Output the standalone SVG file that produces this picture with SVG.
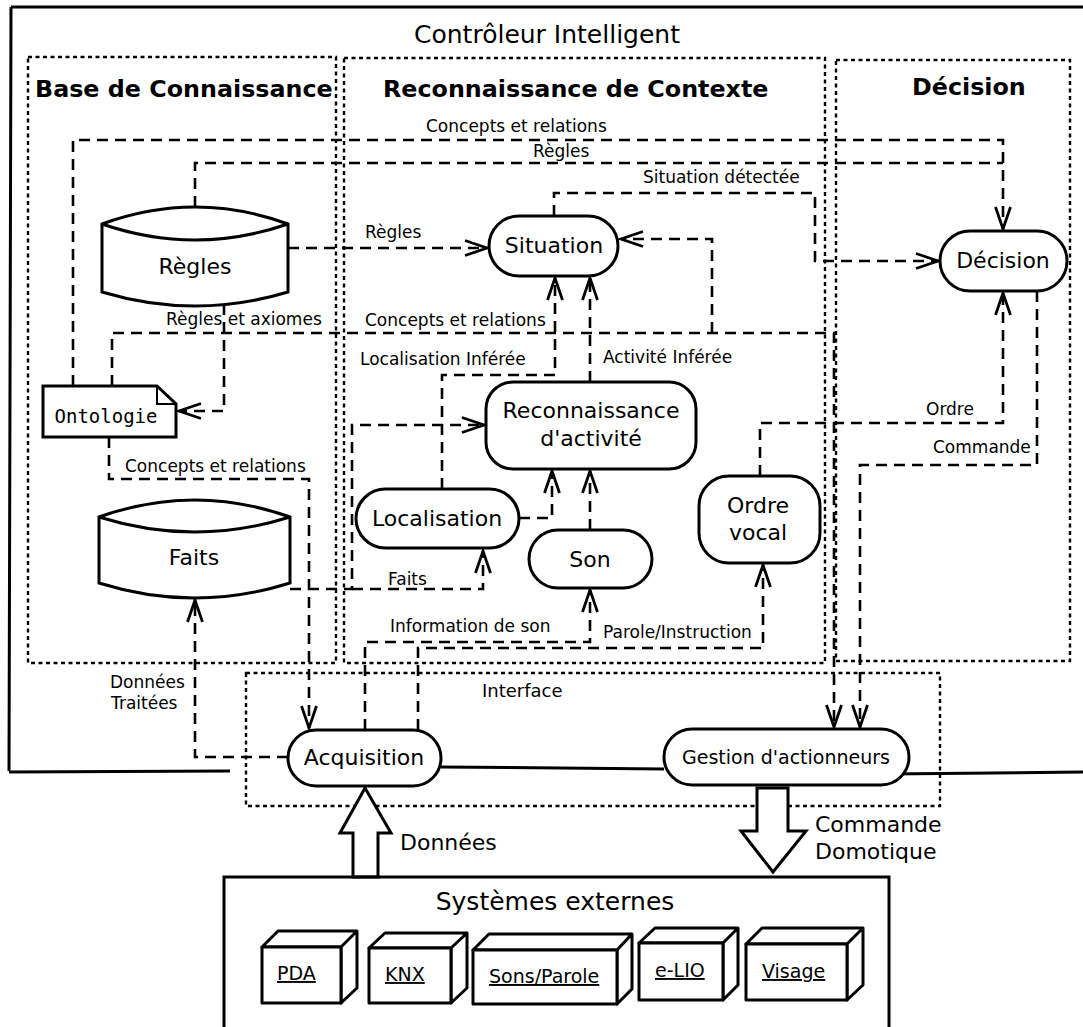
<svg xmlns="http://www.w3.org/2000/svg" width="1083" height="1027" viewBox="0 0 1083 1027">
<style>
text{font-family:"DejaVu Sans","Liberation Sans",sans-serif;fill:#000}
.sec{fill:none;stroke:#000;stroke-width:2.4;stroke-dasharray:4 3.5}
.dash{fill:none;stroke:#000;stroke-width:2.6;stroke-dasharray:11 7}
.solid{fill:none;stroke:#000;stroke-width:3}
.node{fill:#fff;stroke:#000;stroke-width:3}
.nt{font-size:22px;text-anchor:middle}
.lbl{font-size:17px}
.title{font-size:23.8px;font-weight:bold}
.cube{fill:#fff;stroke:#000;stroke-width:3;stroke-linejoin:round}
.ct{font-size:19px;text-decoration:underline}
</style>
<defs>
<marker id="arr" markerUnits="userSpaceOnUse" viewBox="-2 -10 26 20" markerWidth="26" markerHeight="20" refX="22" refY="0" orient="auto" overflow="visible">
<path d="M0,-7.5 L22,0 L0,7.5" fill="none" stroke="#000" stroke-width="2.8" stroke-dasharray="none"/>
</marker>
</defs>

<g id="frame">
<path class="solid" d="M11,7 L1083,7 M11,7 L9,771 M9,772 L230,771 M888,774 L1083,772"/>
<text x="547" y="43" style="font-size:25px;text-anchor:middle">Contrôleur Intelligent</text>
</g>

<g id="sections">
<rect class="sec" x="28" y="57" width="308" height="606"/>
<rect class="sec" x="344" y="58" width="481" height="605"/>
<rect class="sec" x="836" y="60" width="234" height="601"/>
<rect class="sec" x="246" y="673" width="694" height="133"/>
<text class="title" x="35" y="97">Base de Connaissance</text>
<text class="title" x="383" y="97">Reconnaissance de Contexte</text>
<text class="title" x="912" y="95">Décision</text>
<text x="482" y="697" style="font-size:18px">Interface</text>
</g>

<g id="connectors">
<path class="dash" d="M73,386 L73,140 L1003,140 L1003,229" marker-end="url(#arr)"/>
<path class="dash" d="M195,207 L195,163 L1003,163"/>
<path class="dash" d="M288,248 L487,248" marker-end="url(#arr)"/>
<path class="dash" d="M554,216 L554,193 L815,193 L815,261 L938,261" marker-end="url(#arr)"/>
<path class="dash" d="M112,386 L112,333 L834,333 L834,727" marker-end="url(#arr)"/>
<path class="dash" d="M712,333 L712,239 L621,239" marker-end="url(#arr)"/>
<path class="dash" d="M224,304 L224,411 L179,411" marker-end="url(#arr)"/>
<path class="dash" d="M442,489 L442,375 L555,375 L555,278" marker-end="url(#arr)"/>
<path class="dash" d="M590,382 L590,278" marker-end="url(#arr)"/>
<path class="dash" d="M519,518 L552,518 L552,471" marker-end="url(#arr)"/>
<path class="dash" d="M590,530 L590,471" marker-end="url(#arr)"/>
<path class="dash" d="M290,589 L352,589 L352,425 L484,425" marker-end="url(#arr)"/>
<path class="dash" d="M352,589 L483,589 L483,551" marker-end="url(#arr)"/>
<path class="dash" d="M109,437 L109,479 L309,479 L309,728" marker-end="url(#arr)"/>
<path class="dash" d="M288,757 L195,757 L195,600" marker-end="url(#arr)"/>
<path class="dash" d="M365,730 L365,642 L590,642 L590,590" marker-end="url(#arr)"/>
<path class="dash" d="M418,730 L418,648 L763,648 L763,565" marker-end="url(#arr)"/>
<path class="dash" d="M760,476 L760,423 L1003,423 L1003,293" marker-end="url(#arr)"/>
<path class="dash" d="M1037,291 L1037,465 L860,465 L860,727" marker-end="url(#arr)"/>
<path class="solid" d="M441,767 L664,769"/>
<polygon class="node" points="353,877 353,833 340,833 365,788 391,833 378,833 378,877"/>
<polygon class="node" points="757,788 788,788 788,831 806,831 773,872 741,831 757,831"/>
<g class="lbl">
<text class="lbl" x="426" y="132">Concepts et relations</text>
<text class="lbl" x="533" y="157">Règles</text>
<text class="lbl" x="365" y="238">Règles</text>
<text class="lbl" x="643" y="183">Situation détectée</text>
<text class="lbl" x="166" y="325">Règles et axiomes</text>
<text class="lbl" x="365" y="326">Concepts et relations</text>
<text class="lbl" x="360" y="365">Localisation Inférée</text>
<text class="lbl" x="603" y="363">Activité Inférée</text>
<text class="lbl" x="125" y="472">Concepts et relations</text>
<text class="lbl" x="388" y="585">Faits</text>
<text class="lbl" x="390" y="632">Information de son</text>
<text class="lbl" x="603" y="638">Parole/Instruction</text>
<text class="lbl" x="926" y="415">Ordre</text>
<text class="lbl" x="933" y="453">Commande</text>
<text class="lbl" x="110" y="688">Données</text>
<text class="lbl" x="111" y="709">Traitées</text>
</g>
<text x="400" y="850" style="font-size:22px">Données</text>
<text x="815" y="832" style="font-size:22px">Commande</text>
<text x="815" y="859" style="font-size:22px">Domotique</text>
</g>

<g id="regles">
<path class="node" d="M102,224 Q195,190 288,224 L288,292 Q195,320 102,292 Z"/>
<path class="node" d="M102,224 Q195,256 288,224" fill="none"/>
<text class="nt" x="195" y="274">Règles</text>
</g>

<g id="faits">
<path class="node" d="M99,517 Q194.5,483 290,517 L290,583 Q194.5,613 99,583 Z"/>
<path class="node" d="M99,517 Q194.5,547 290,517" fill="none"/>
<text class="nt" x="194" y="565">Faits</text>
</g>

<g id="ontologie">
<path class="node" d="M43,386 L157,386 L176,404 L176,437 L43,437 Z"/>
<path d="M157,386 L157,404 L176,404" fill="none" stroke="#000" stroke-width="2"/>
<text x="106" y="423" style="font-family:'DejaVu Sans Mono','Liberation Mono',monospace;font-size:19px;text-anchor:middle">Ontologie</text>
</g>

<g id="situation">
<rect class="node" x="489" y="216" width="129" height="60" rx="30"/>
<text class="nt" x="554" y="253">Situation</text>
</g>

<g id="decision">
<rect class="node" x="940" y="231" width="127" height="60" rx="30"/>
<text class="nt" x="1003" y="268">Décision</text>
</g>

<g id="reco-activite">
<rect class="node" x="486" y="382" width="210" height="87" rx="27"/>
<text class="nt" x="591" y="418">Reconnaissance</text>
<text class="nt" x="591" y="446">d'activité</text>
</g>

<g id="localisation">
<rect class="node" x="356" y="489" width="163" height="59" rx="29.5"/>
<text class="nt" x="437" y="526">Localisation</text>
</g>

<g id="son">
<rect class="node" x="529" y="530" width="123" height="58" rx="29"/>
<text class="nt" x="590" y="567">Son</text>
</g>

<g id="ordre-vocal">
<rect class="node" x="699" y="476" width="121" height="87" rx="30"/>
<text class="nt" x="758" y="513">Ordre</text>
<text class="nt" x="758" y="540">vocal</text>
</g>

<g id="acquisition">
<rect class="node" x="288" y="730" width="153" height="56" rx="28"/>
<text class="nt" x="364" y="765">Acquisition</text>
</g>

<g id="gestion">
<rect class="node" x="664" y="729" width="245" height="56" rx="28"/>
<text x="786" y="764" style="font-size:19px;text-anchor:middle">Gestion d'actionneurs</text>
</g>

<g id="systemes">
<rect class="solid" x="224" y="877" width="665" height="160" fill="#fff"/>
<text x="555" y="910" style="font-size:25px;text-anchor:middle">Systèmes externes</text>
<g id="pda">
<path class="cube" d="M262,947 L278,931 L357,931 L341,947 Z M341,947 L357,931 L357,988 L341,1003 Z"/>
<rect class="cube" x="262" y="947" width="79" height="56"/>
<text class="ct" x="277" y="980">PDA</text>
</g>
<g id="knx">
<path class="cube" d="M369,948 L385,933 L467,933 L451,948 Z M451,948 L467,933 L467,988 L451,1003 Z"/>
<rect class="cube" x="369" y="948" width="82" height="55"/>
<text class="ct" x="385" y="981">KNX</text>
</g>
<g id="sons">
<path class="cube" d="M473,950 L489,934 L632,934 L617,950 Z M617,950 L632,934 L632,989 L617,1004 Z"/>
<rect class="cube" x="473" y="950" width="144" height="54"/>
<text class="ct" x="489" y="983">Sons/Parole</text>
</g>
<g id="elio">
<path class="cube" d="M639,943 L655,928 L738,928 L723,943 Z M723,943 L738,928 L738,985 L723,1000 Z"/>
<rect class="cube" x="639" y="943" width="84" height="57"/>
<text class="ct" x="655" y="977">e-LIO</text>
</g>
<g id="visage">
<path class="cube" d="M746,944 L762,928 L863,928 L847,944 Z M847,944 L863,928 L863,985 L847,1000 Z"/>
<rect class="cube" x="746" y="944" width="101" height="56"/>
<text class="ct" x="762" y="978">Visage</text>
</g>
</g>
</svg>
